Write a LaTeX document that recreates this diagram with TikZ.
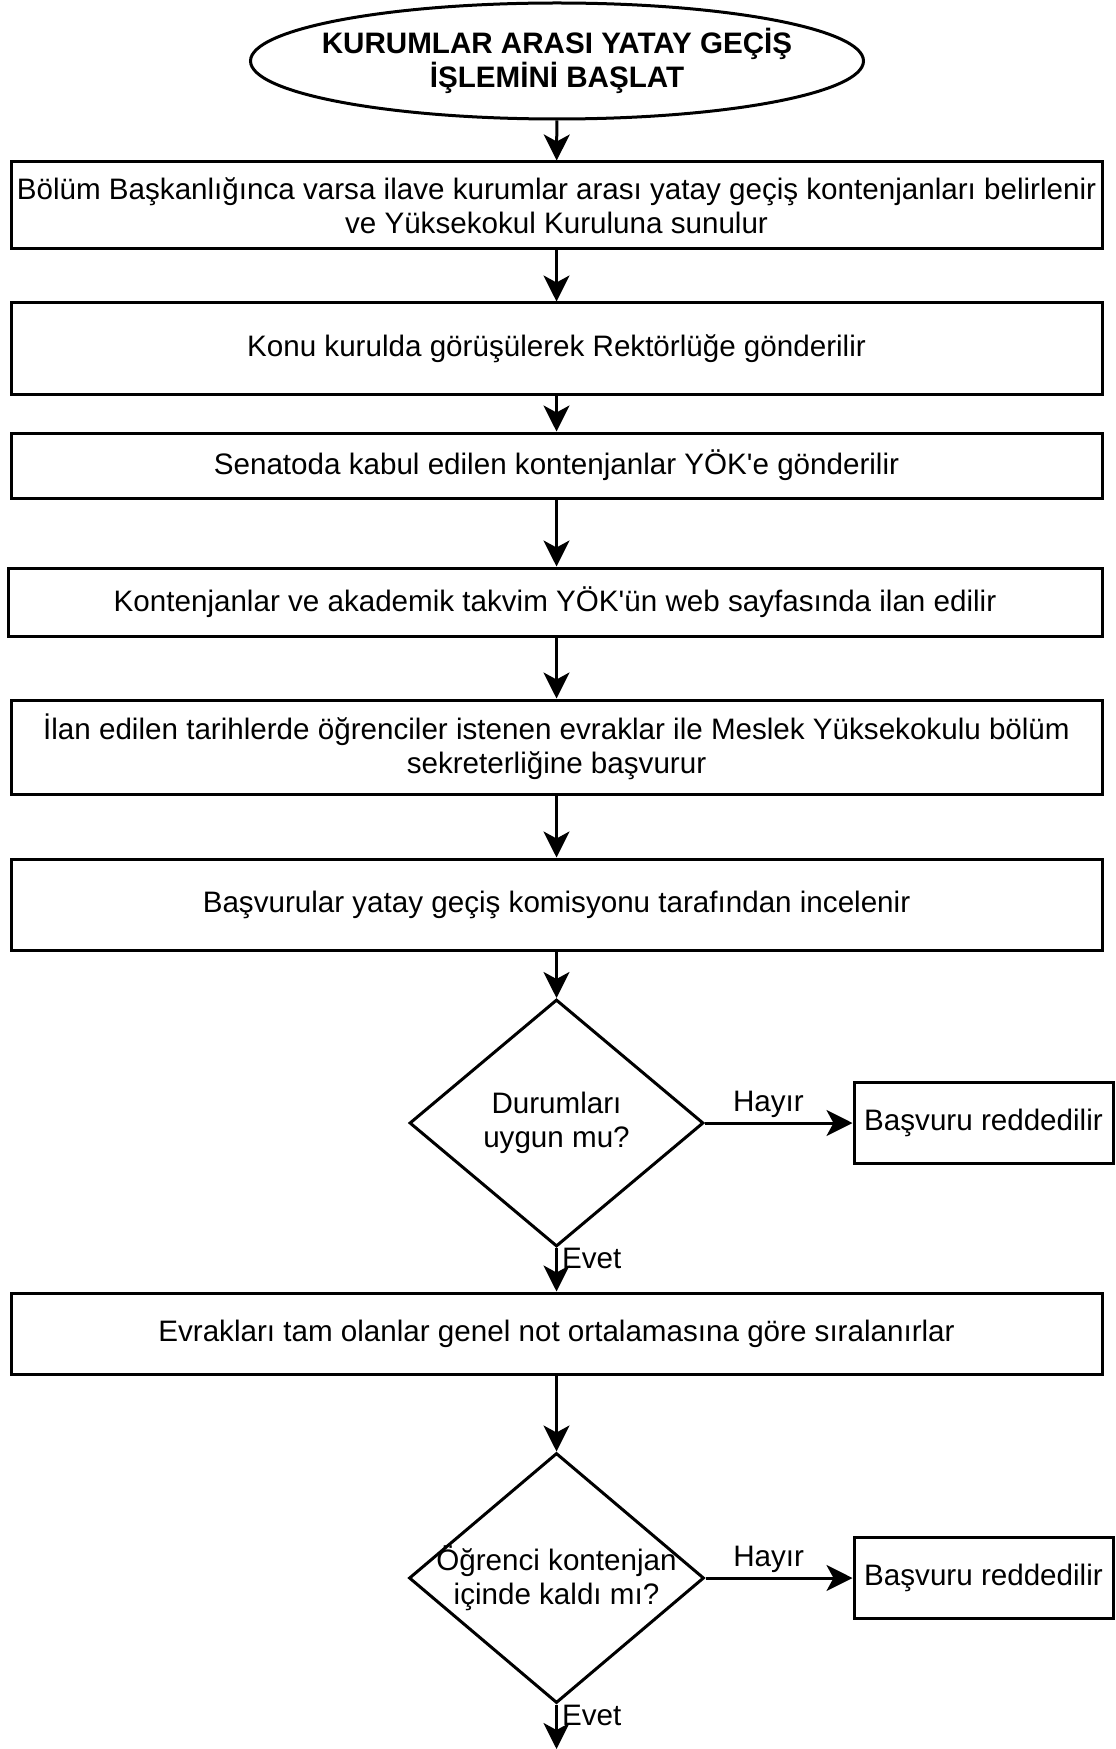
\documentclass[tikz,border=0pt]{standalone}
\usepackage{fontspec}
\setmainfont{Liberation Sans}[Ligatures=TeXOff]
\usepackage{tikz}
\usetikzlibrary{arrows.meta,positioning,shapes}

\begin{document}
\begin{tikzpicture}[x=1pt,y=1pt,
  font=\fontsize{14.8}{16.8}\selectfont,
  startnode/.style={draw,line width=1.5pt,ellipse,inner sep=0pt,
    minimum width=306.5pt,minimum height=58pt},
  stepbox/.style={draw,line width=1.5pt,rectangle,inner sep=0pt,
    minimum width=545.5pt,align=center},
  decision/.style={draw,line width=1.5pt,diamond,inner sep=0pt},
  rejectbox/.style={draw,line width=1.5pt,rectangle,inner sep=0pt,
    minimum width=129.5pt,minimum height=40.5pt},
  flow/.style={line width=1.5pt,-{Stealth[length=13pt,width=13pt,inset=3.5pt]}},
  tag/.style={inner sep=2pt}]
  \useasboundingbox (0,0) rectangle (557.5,-874.5);

  % --- start --------------------------------------------------------------
  \node[startnode,label={[align=center,font=\fontsize{14.8}{16.8}\selectfont\bfseries]center:KURUMLAR ARASI YATAY GEÇİŞ\\İŞLEMİNİ BAŞLAT}]
    (start) at (278.5,-30.5) {};

  % --- steps --------------------------------------------------------------
  \node[stepbox,minimum height=43.5pt] (s1) at (278.25,-102.75)
    {Bölüm Başkanlığınca varsa ilave kurumlar arası yatay geçiş kontenjanları belirlenir\\ve Yüksekokul Kuruluna sunulur};
  \node[stepbox,minimum height=45.5pt] (s2) at (278.25,-174.25)
    {Konu kurulda görüşülerek Rektörlüğe gönderilir};
  \node[stepbox,minimum height=32.5pt] (s3) at (278.25,-232.75)
    {Senatoda kabul edilen kontenjanlar YÖK'e gönderilir};
  \node[stepbox,minimum height=34pt,minimum width=547pt] (s4) at (277.5,-301)
    {Kontenjanlar ve akademik takvim YÖK'ün web sayfasında ilan edilir};
  \node[stepbox,minimum height=47pt] (s5) at (278.25,-373.5)
    {İlan edilen tarihlerde öğrenciler istenen evraklar ile Meslek Yüksekokulu bölüm\\sekreterliğine başvurur};
  \node[stepbox,minimum height=45.5pt] (s6) at (278.25,-452.25)
    {Başvurular yatay geçiş komisyonu tarafından incelenir};

  % --- first check --------------------------------------------------------
  \node[decision,minimum width=147pt,minimum height=123.5pt,
    label={[align=center]center:Durumları\\uygun mu?}] (d1) at (278.25,-561.5) {};
  \node[rejectbox] (r1) at (491.75,-561.5) {Başvuru reddedilir};

  \node[stepbox,minimum height=40.5pt] (s7) at (278.25,-666.75)
    {Evrakları tam olanlar genel not ortalamasına göre sıralanırlar};

  % --- second check -------------------------------------------------------
  \node[decision,minimum width=147.5pt,minimum height=125pt,
    label={[align=center]center:Öğrenci kontenjan\\içinde kaldı mı?}] (d2) at (278.25,-789) {};
  \node[rejectbox] (r2) at (491.75,-789) {Başvuru reddedilir};
  \coordinate (out) at (278.25,-874.5);

  % --- connectors ---------------------------------------------------------
  \draw[flow] (start) -- (s1);
  \draw[flow] (s1) -- (s2);
  \draw[flow] (s2) -- (s3);
  \draw[flow] (s3) -- (s3.south |- s4.north);
  \draw[flow] (s3.south |- s4.south) -- (s5);
  \draw[flow] (s5) -- (s6);
  \draw[flow] (s6) -- (d1);
  \draw[flow] (d1) -- (r1) node[pos=0.43,above,tag]{Hayır};
  \draw[flow] (d1) -- (s7) node[near start,right,tag]{Evet};
  \draw[flow] (s7) -- (d2);
  \draw[flow] (d2) -- (r2) node[pos=0.43,above,tag]{Hayır};
  \draw[flow] (d2) -- (out) node[near start,right,tag]{Evet};
\end{tikzpicture}
\end{document}
